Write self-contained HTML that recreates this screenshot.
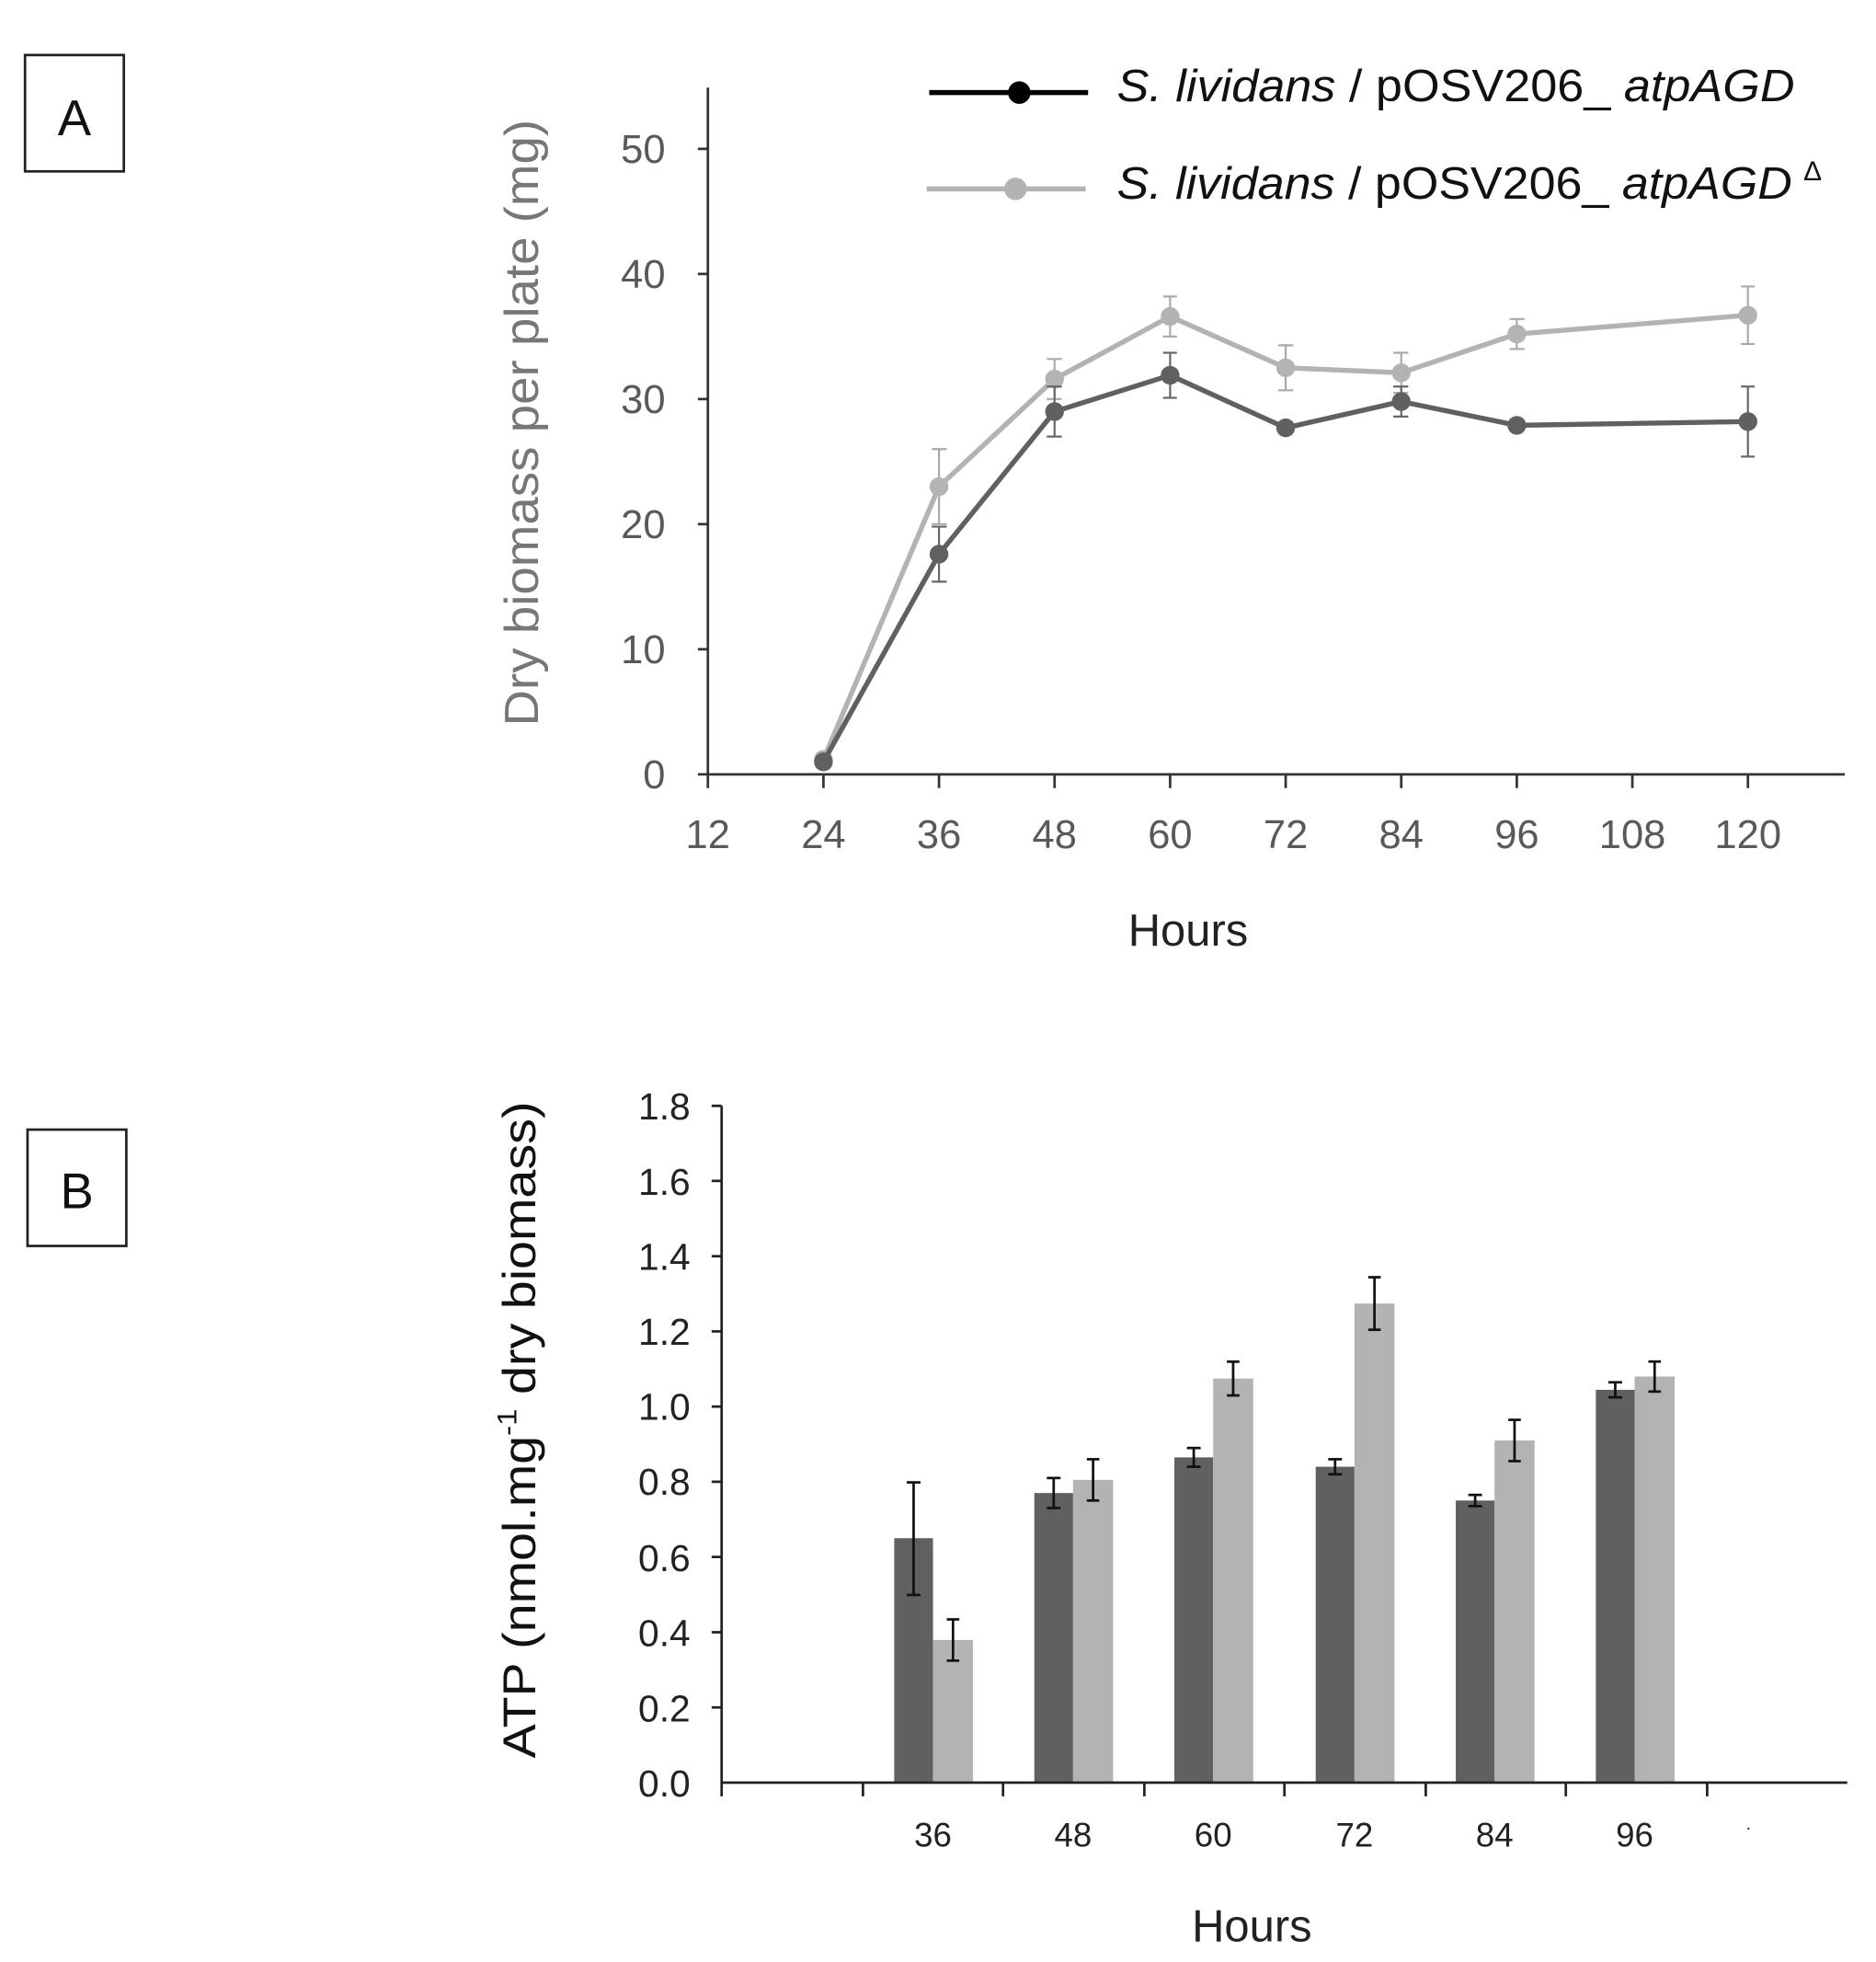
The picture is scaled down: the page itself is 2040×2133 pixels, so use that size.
<!DOCTYPE html>
<html><head><meta charset="utf-8"><style>html,body{margin:0;padding:0;background:#fff}svg{display:block}</style></head>
<body>
<svg width="2040" height="2133" viewBox="0 0 1500 1568.4" xmlns="http://www.w3.org/2000/svg" font-family="Liberation Sans, DejaVu Sans, sans-serif">
<rect width="1500" height="1568.4" fill="#fff"/>
<!-- Panel A -->
<rect x="20" y="44" width="79" height="93" fill="none" stroke="#222" stroke-width="2"/>
<text x="59.5" y="108" font-size="40" text-anchor="middle" fill="#111">A</text>
<g stroke="#333" stroke-width="2" fill="none">
<line x1="566" y1="70" x2="566" y2="619"/>
<line x1="566" y1="619" x2="1475" y2="619"/>
<line x1="558" y1="119" x2="566" y2="119"/><line x1="558" y1="219" x2="566" y2="219"/><line x1="558" y1="319" x2="566" y2="319"/><line x1="558" y1="419" x2="566" y2="419"/><line x1="558" y1="519" x2="566" y2="519"/><line x1="558" y1="619" x2="566" y2="619"/>
<line x1="566" y1="619" x2="566" y2="630"/><line x1="658.4" y1="619" x2="658.4" y2="630"/><line x1="750.8" y1="619" x2="750.8" y2="630"/><line x1="843.2" y1="619" x2="843.2" y2="630"/><line x1="935.6" y1="619" x2="935.6" y2="630"/><line x1="1028" y1="619" x2="1028" y2="630"/><line x1="1120.4" y1="619" x2="1120.4" y2="630"/><line x1="1212.8" y1="619" x2="1212.8" y2="630"/><line x1="1305.2" y1="619" x2="1305.2" y2="630"/><line x1="1397.6" y1="619" x2="1397.6" y2="630"/>
</g>
<g font-size="32" fill="#595959" text-anchor="end">
<text x="532" y="130">50</text><text x="532" y="230">40</text><text x="532" y="330">30</text><text x="532" y="430">20</text><text x="532" y="530">10</text><text x="532" y="630">0</text>
</g>
<g font-size="32" fill="#595959" text-anchor="middle">
<text x="566" y="678">12</text><text x="658.4" y="678">24</text><text x="750.8" y="678">36</text><text x="843.2" y="678">48</text><text x="935.6" y="678">60</text><text x="1028" y="678">72</text><text x="1120.4" y="678">84</text><text x="1212.8" y="678">96</text><text x="1305.2" y="678">108</text><text x="1397.6" y="678">120</text>
</g>
<text x="950" y="756" font-size="36" text-anchor="middle" fill="#222">Hours</text>
<text transform="translate(430,338) rotate(-90)" font-size="38" text-anchor="middle" fill="#777" textLength="485" lengthAdjust="spacingAndGlyphs">Dry biomass per plate (mg)</text>
<!-- light series -->
<g stroke="#aaa" stroke-width="1.6">
<line x1="658.4" y1="601" x2="658.4" y2="613"/>
<line x1="750.8" y1="359" x2="750.8" y2="419"/><line x1="745" y1="359" x2="757" y2="359"/><line x1="745" y1="419" x2="757" y2="419"/>
<line x1="843.2" y1="287" x2="843.2" y2="319"/><line x1="837" y1="287" x2="849" y2="287"/><line x1="837" y1="319" x2="849" y2="319"/>
<line x1="935.6" y1="237" x2="935.6" y2="269"/><line x1="930" y1="237" x2="941" y2="237"/><line x1="930" y1="269" x2="941" y2="269"/>
<line x1="1028" y1="276" x2="1028" y2="312"/><line x1="1022" y1="276" x2="1034" y2="276"/><line x1="1022" y1="312" x2="1034" y2="312"/>
<line x1="1120.4" y1="282" x2="1120.4" y2="314"/><line x1="1114" y1="282" x2="1126" y2="282"/><line x1="1114" y1="314" x2="1126" y2="314"/>
<line x1="1212.8" y1="255" x2="1212.8" y2="279"/><line x1="1207" y1="255" x2="1219" y2="255"/><line x1="1207" y1="279" x2="1219" y2="279"/>
<line x1="1397.6" y1="229" x2="1397.6" y2="275"/><line x1="1392" y1="229" x2="1403" y2="229"/><line x1="1392" y1="275" x2="1403" y2="275"/>
</g>
<polyline points="658.4,607 750.8,389 843.2,303 935.6,253 1028,294 1120.4,298 1212.8,267 1397.6,252" fill="none" stroke="#b3b3b3" stroke-width="4"/>
<g fill="#b3b3b3"><circle cx="658.4" cy="607" r="7.5"/><circle cx="750.8" cy="389" r="7.5"/><circle cx="843.2" cy="303" r="7.5"/><circle cx="935.6" cy="253" r="7.5"/><circle cx="1028" cy="294" r="7.5"/><circle cx="1120.4" cy="298" r="7.5"/><circle cx="1212.8" cy="267" r="7.5"/><circle cx="1397.6" cy="252" r="7.5"/></g>
<!-- dark series -->
<g stroke="#666" stroke-width="1.6">
<line x1="750.8" y1="421" x2="750.8" y2="465"/><line x1="745" y1="421" x2="757" y2="421"/><line x1="745" y1="465" x2="757" y2="465"/>
<line x1="843.2" y1="309" x2="843.2" y2="349"/><line x1="837" y1="349" x2="849" y2="349"/><line x1="837" y1="309" x2="849" y2="309"/>
<line x1="935.6" y1="282" x2="935.6" y2="318"/><line x1="930" y1="282" x2="941" y2="282"/><line x1="930" y1="318" x2="941" y2="318"/>
<line x1="1120.4" y1="309" x2="1120.4" y2="333"/><line x1="1114" y1="309" x2="1126" y2="309"/><line x1="1114" y1="333" x2="1126" y2="333"/>
<line x1="1397.6" y1="309" x2="1397.6" y2="365"/><line x1="1392" y1="309" x2="1403" y2="309"/><line x1="1392" y1="365" x2="1403" y2="365"/>
</g>
<polyline points="658.4,609 750.8,443 843.2,329 935.6,300 1028,342 1120.4,321 1212.8,340 1397.6,337" fill="none" stroke="#606060" stroke-width="4"/>
<g fill="#606060"><circle cx="658.4" cy="609" r="7.5"/><circle cx="750.8" cy="443" r="7.5"/><circle cx="843.2" cy="329" r="7.5"/><circle cx="935.6" cy="300" r="7.5"/><circle cx="1028" cy="342" r="7.5"/><circle cx="1120.4" cy="321" r="7.5"/><circle cx="1212.8" cy="340" r="7.5"/><circle cx="1397.6" cy="337" r="7.5"/></g>
<!-- legend -->
<line x1="743" y1="74" x2="870" y2="74" stroke="#000" stroke-width="4"/><circle cx="815" cy="74" r="9" fill="#000"/>
<line x1="741" y1="151" x2="868" y2="151" stroke="#b3b3b3" stroke-width="4"/><circle cx="812" cy="151" r="9" fill="#b3b3b3"/>
<text x="893" y="81" font-size="36" fill="#111" textLength="542" lengthAdjust="spacingAndGlyphs"><tspan font-style="italic">S. lividans</tspan> / pOSV206_ <tspan font-style="italic">atpAGD</tspan></text>
<text x="893" y="159" font-size="36" fill="#111" textLength="540" lengthAdjust="spacingAndGlyphs"><tspan font-style="italic">S. lividans</tspan> / pOSV206_ <tspan font-style="italic">atpAGD</tspan></text>
<text x="1442" y="144" font-size="22" fill="#111">Δ</text>
<!-- Panel B -->
<rect x="22" y="903" width="79" height="93" fill="none" stroke="#222" stroke-width="2"/>
<text x="61.5" y="966" font-size="40" text-anchor="middle" fill="#111">B</text>
<g fill="#606060">
<rect x="715" y="1229.6" width="31" height="195.4"/><rect x="827" y="1193.5" width="31" height="231.5"/><rect x="939" y="1165" width="31" height="260"/><rect x="1052" y="1172.5" width="31" height="252.5"/><rect x="1164" y="1199.5" width="31" height="225.5"/><rect x="1276" y="1111" width="31" height="314"/>
</g>
<g fill="#b3b3b3">
<rect x="746" y="1311" width="32" height="114"/><rect x="858" y="1183" width="32" height="242"/><rect x="970" y="1102" width="32" height="323"/><rect x="1083" y="1042" width="32" height="383"/><rect x="1195" y="1151.5" width="32" height="273.5"/><rect x="1307" y="1100.4" width="32" height="324.6"/>
</g>
<g stroke="#111" stroke-width="2">
<line x1="730.5" y1="1185" x2="730.5" y2="1275"/><line x1="725" y1="1185" x2="736" y2="1185"/><line x1="725" y1="1275" x2="736" y2="1275"/>
<line x1="762" y1="1294.5" x2="762" y2="1327.5"/><line x1="757" y1="1294.5" x2="767" y2="1294.5"/><line x1="757" y1="1327.5" x2="767" y2="1327.5"/>
<line x1="842.5" y1="1181.5" x2="842.5" y2="1205.5"/><line x1="837" y1="1181.5" x2="848" y2="1181.5"/><line x1="837" y1="1205.5" x2="848" y2="1205.5"/>
<line x1="874" y1="1166.5" x2="874" y2="1199.5"/><line x1="869" y1="1166.5" x2="879" y2="1166.5"/><line x1="869" y1="1199.5" x2="879" y2="1199.5"/>
<line x1="954.5" y1="1157.5" x2="954.5" y2="1172.5"/><line x1="949" y1="1157.5" x2="960" y2="1157.5"/><line x1="949" y1="1172.5" x2="960" y2="1172.5"/>
<line x1="986" y1="1088.5" x2="986" y2="1115.5"/><line x1="981" y1="1088.5" x2="991" y2="1088.5"/><line x1="981" y1="1115.5" x2="991" y2="1115.5"/>
<line x1="1067.5" y1="1166.5" x2="1067.5" y2="1178.5"/><line x1="1062" y1="1166.5" x2="1073" y2="1166.5"/><line x1="1062" y1="1178.5" x2="1073" y2="1178.5"/>
<line x1="1099" y1="1021" x2="1099" y2="1063"/><line x1="1094" y1="1021" x2="1104" y2="1021"/><line x1="1094" y1="1063" x2="1104" y2="1063"/>
<line x1="1179.5" y1="1195" x2="1179.5" y2="1204"/><line x1="1174" y1="1195" x2="1185" y2="1195"/><line x1="1174" y1="1204" x2="1185" y2="1204"/>
<line x1="1211" y1="1135" x2="1211" y2="1168"/><line x1="1206" y1="1135" x2="1216" y2="1135"/><line x1="1206" y1="1168" x2="1216" y2="1168"/>
<line x1="1291.5" y1="1105" x2="1291.5" y2="1117"/><line x1="1286" y1="1105" x2="1297" y2="1105"/><line x1="1286" y1="1117" x2="1297" y2="1117"/>
<line x1="1323" y1="1088.4" x2="1323" y2="1112.4"/><line x1="1318" y1="1088.4" x2="1328" y2="1088.4"/><line x1="1318" y1="1112.4" x2="1328" y2="1112.4"/>
</g>
<g stroke="#222" stroke-width="2" fill="none">
<line x1="577" y1="884" x2="577" y2="1425"/>
<line x1="577" y1="1425" x2="1477" y2="1425"/>
<line x1="569" y1="884" x2="577" y2="884"/><line x1="569" y1="944" x2="577" y2="944"/><line x1="569" y1="1004.2" x2="577" y2="1004.2"/><line x1="569" y1="1064.3" x2="577" y2="1064.3"/><line x1="569" y1="1124.4" x2="577" y2="1124.4"/><line x1="569" y1="1184.5" x2="577" y2="1184.5"/><line x1="569" y1="1244.6" x2="577" y2="1244.6"/><line x1="569" y1="1304.8" x2="577" y2="1304.8"/><line x1="569" y1="1364.9" x2="577" y2="1364.9"/>
<line x1="577" y1="1425" x2="577" y2="1436"/><line x1="690" y1="1425" x2="690" y2="1436"/><line x1="802" y1="1425" x2="802" y2="1436"/><line x1="915" y1="1425" x2="915" y2="1436"/><line x1="1027" y1="1425" x2="1027" y2="1436"/><line x1="1140" y1="1425" x2="1140" y2="1436"/><line x1="1252" y1="1425" x2="1252" y2="1436"/><line x1="1365" y1="1425" x2="1365" y2="1436"/>
</g>
<g font-size="30" fill="#222" text-anchor="end">
<text x="552" y="895">1.8</text><text x="552" y="955">1.6</text><text x="552" y="1015">1.4</text><text x="552" y="1075">1.2</text><text x="552" y="1135">1.0</text><text x="552" y="1195">0.8</text><text x="552" y="1256">0.6</text><text x="552" y="1316">0.4</text><text x="552" y="1376">0.2</text><text x="552" y="1436">0.0</text>
</g>
<g font-size="27" fill="#222" text-anchor="middle">
<text x="746" y="1476">36</text><text x="858" y="1476">48</text><text x="970" y="1476">60</text><text x="1083" y="1476">72</text><text x="1195" y="1476">84</text><text x="1307" y="1476">96</text><text x="1398" y="1466" font-size="14">·</text>
</g>
<text x="1001" y="1552" font-size="36" text-anchor="middle" fill="#222">Hours</text>
<text transform="translate(428,1143) rotate(-90)" font-size="37" text-anchor="middle" fill="#111" textLength="525" lengthAdjust="spacingAndGlyphs">ATP  (nmol.mg<tspan font-size="22" dy="-15">-1</tspan><tspan dy="15"> dry biomass)</tspan></text>
</svg>
</body></html>
